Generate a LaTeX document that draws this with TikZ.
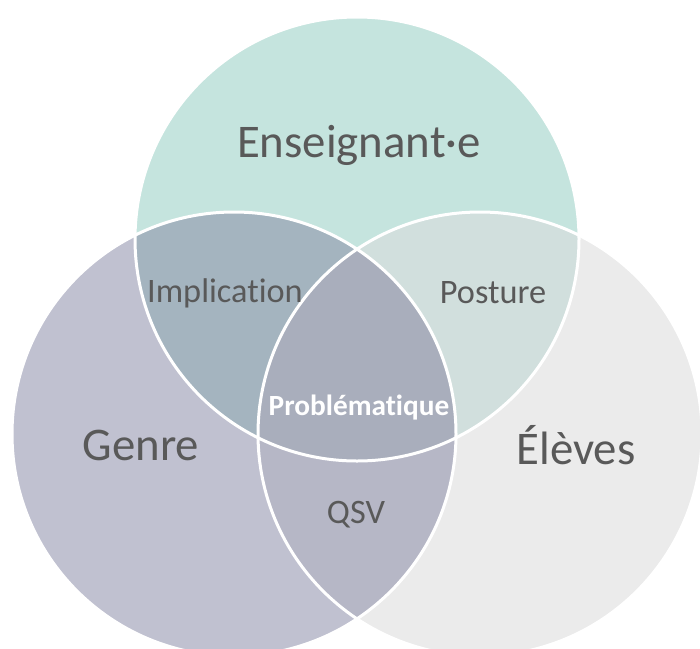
\documentclass[tikz,border=0pt]{standalone}
\usepackage{fontspec}
\setmainfont[Ligatures={NoCommon}]{Carlito}
\definecolor{cTop}{HTML}{C5E4DE}
\definecolor{cLeft}{HTML}{C0C1D0}
\definecolor{cRight}{HTML}{EBEBEB}
\definecolor{cTL}{HTML}{A4B4BF}
\definecolor{cTR}{HTML}{D1DFDD}
\definecolor{cLR}{HTML}{B6B7C6}
\definecolor{cAll}{HTML}{A9AEBC}
\definecolor{txt}{HTML}{595959}
\tikzset{
  big/.style={text=txt, font=\fontsize{46.8}{50}\selectfont, inner sep=0pt},
  mid/.style={text=txt, font=\fontsize{34.3}{38}\selectfont, inner sep=0pt},
  core/.style={text=white, font=\bfseries\fontsize{29.3}{32}\selectfont, inner sep=0pt},
  ring/.style={draw=white, line width=3pt}
}
\begin{document}
\begin{tikzpicture}[x=1pt,y=-1pt]
\useasboundingbox (0,0) rectangle (700,648);
\clip (0,0) rectangle (700,648);
\def\R{222}
\coordinate (T) at (357,239);
\coordinate (L) at (234,434);
\coordinate (Rt) at (480,434);
% base fills
\fill[cRight] (Rt) circle (\R);
\fill[cLeft] (L) circle (\R);
\fill[cTop] (T) circle (\R);
% pairwise intersections
\begin{scope}
  \clip (T) circle (\R);
  \fill[cTL] (L) circle (\R);
  \fill[cTR] (Rt) circle (\R);
\end{scope}
\begin{scope}
  \clip (L) circle (\R);
  \fill[cLR] (Rt) circle (\R);
\end{scope}
\begin{scope}
  \clip (T) circle (\R);
  \clip (L) circle (\R);
  \fill[cAll] (Rt) circle (\R);
\end{scope}
% outlines
\draw[ring] (T) circle (\R);
\draw[ring] (L) circle (\R);
\draw[ring] (Rt) circle (\R);
% labels
\node[big] (ens) at (359,145) {Enseignant·e};
\node[big] (gen) at (141,445) {Genre};
\node[big] (ele) at (576,445) {Élèves};
\node[mid] (imp) at (225,293) {Implication};
\node[mid] (pos) at (493,293) {Posture};
\node[core] (pro) at (359,408) {Problématique};
\node[mid] (qsv) at (356,515) {QSV};
\end{tikzpicture}
\end{document}
